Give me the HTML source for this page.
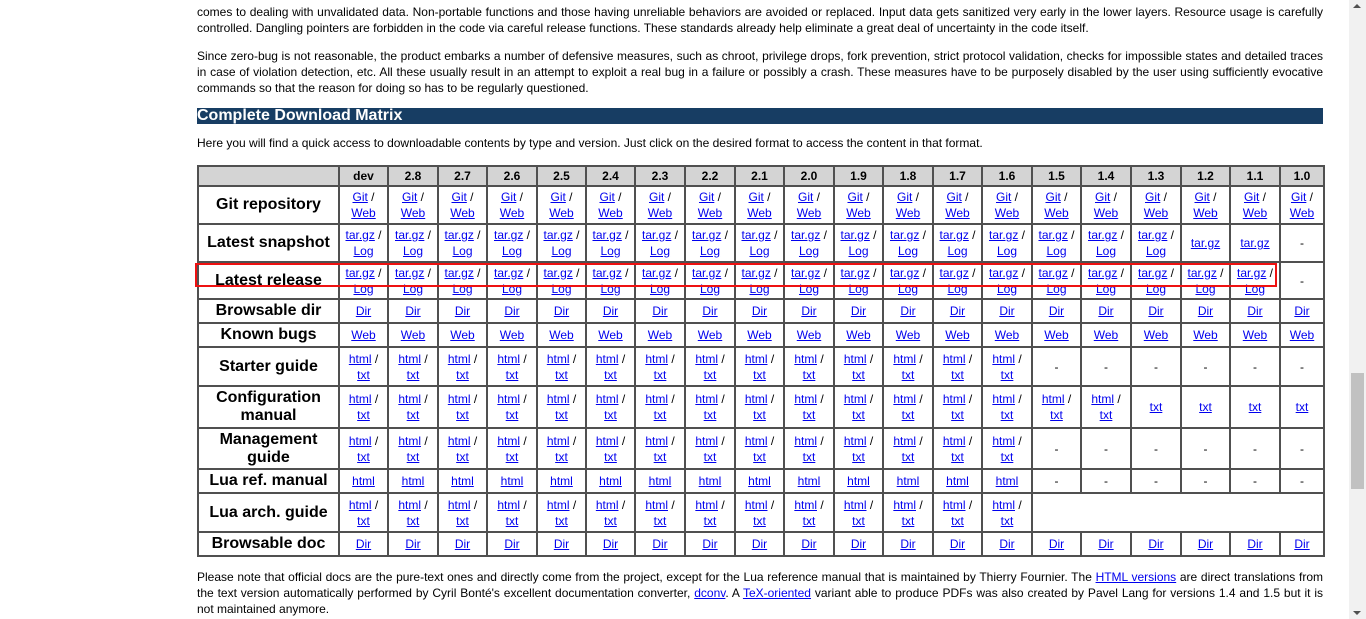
<!DOCTYPE html>
<html><head><meta charset="utf-8"><style>
body{margin:0;width:1366px;height:619px;overflow:hidden;background:#fff;font-family:"Liberation Sans",Arial,sans-serif;font-size:12px;color:#000;position:relative}
.ln{position:absolute;left:197px;width:1126px;height:16px;line-height:16px;white-space:nowrap;text-align:justify;text-align-last:justify}
.ln.last{text-align-last:left}
a{color:#0000ee;text-decoration:underline}
a.v{color:#551a8b}
#hdr{position:absolute;left:197px;top:108px;width:1126px;height:16px;background:#173d63;color:#fff;font-weight:bold;font-size:16px;line-height:16px}
table{position:absolute;left:197px;top:165px;border-collapse:collapse;table-layout:fixed;width:1126px}
td,th{border:2px solid #505050;text-align:center;padding:0;font-size:12px;line-height:16px}
th{background:#d4d4d4;height:18px;font-weight:bold}
td.l{font-weight:bold;font-size:16px;line-height:18px}
#red{position:absolute;left:195px;top:263px;width:1078px;height:20px;border:2px solid #ee1111}
#sb{position:absolute;left:1349px;top:0;width:17px;height:619px;background:#f1f1f1}
#thumb{position:absolute;left:1351px;top:373px;width:13px;height:116px;background:#c1c1c1}
</style></head><body>
<div class="ln" style="top:4px">comes to dealing with unvalidated data. Non-portable functions and those having unreliable behaviors are avoided or replaced. Input data gets sanitized very early in the lower layers. Resource usage is carefully</div>
<div class="ln last" style="top:20px">controlled. Dangling pointers are forbidden in the code via careful release functions. These standards already help eliminate a great deal of uncertainty in the code itself.</div>
<div class="ln" style="top:48px">Since zero-bug is not reasonable, the product embarks a number of defensive measures, such as chroot, privilege drops, fork prevention, strict protocol validation, checks for impossible states and detailed traces</div>
<div class="ln" style="top:64px">in case of violation detection, etc. All these usually result in an attempt to exploit a real bug in a failure or possibly a crash. These measures have to be purposely disabled by the user using sufficiently evocative</div>
<div class="ln last" style="top:80px">commands so that the reason for doing so has to be regularly questioned.</div>
<div id="hdr">Complete Download Matrix</div>
<div class="ln last" style="top:135px">Here you will find a quick access to downloadable contents by type and version. Just click on the desired format to access the content in that format.</div>
<table id="t"></table>
<div id="red"></div>
<div class="ln" style="top:569px">Please note that official docs are the pure-text ones and directly come from the project, except for the Lua reference manual that is maintained by Thierry Fournier. The <a href="#">HTML versions</a> are direct translations from</div>
<div class="ln" style="top:585px">the text version automatically performed by Cyril Bonté's excellent documentation converter, <a href="#">dconv</a>. A <a href="#">TeX-oriented</a> variant able to produce PDFs was also created by Pavel Lang for versions 1.4 and 1.5 but it is</div>
<div class="ln last" style="top:601px">not maintained anymore.</div>
<div id="sb"><div style="position:absolute;top:4px;left:4px;border:4px solid transparent;border-bottom:4px solid #505050;border-top:0"></div><div style="position:absolute;bottom:4px;left:4px;border:4px solid transparent;border-top:4px solid #505050;border-bottom:0"></div></div>
<div id="thumb"></div>
<script>
const versions=['dev','2.8','2.7','2.6','2.5','2.4','2.3','2.2','2.1','2.0','1.9','1.8','1.7','1.6','1.5','1.4','1.3','1.2','1.1','1.0'];
const colW=[141,49,50,49,50,49,49,50,50,49,50,49,50,49,50,49,50,50,49,50,44];
const rowH=[38,38,37,24,24,39,42,41,24,39,24];
const rows=[
['Git repository',v=>'2/Git/Web'],
['Latest snapshot',(v,i)=>i<17?'2/tar.gz/Log':i<19?'1/tar.gz':'-'],
['Latest release',(v,i)=>i<19?'2/tar.gz/Log':'-'],
['Browsable dir',v=>'1/Dir'],
['Known bugs',v=>'1/Web'],
['Starter guide',(v,i)=>i<14?'2/html/txt':'-'],
['Configuration manual',(v,i)=>i<16?'2/html/txt':'1/txt'],
['Management guide',(v,i)=>i<14?'2/html/txt':'-'],
['Lua ref. manual',(v,i)=>i<14?'1/html':'-'],
['Lua arch. guide',(v,i)=>i<14?'2/html/txt':null],
['Browsable doc',v=>'1/Dir']];
const t=document.getElementById('t');
const cg=document.createElement('colgroup');
colW.forEach(w=>{const c=document.createElement('col');c.style.width=w+'px';cg.appendChild(c);});
t.appendChild(cg);
let tr=document.createElement('tr');


let th=document.createElement('th');tr.appendChild(th);
versions.forEach(v=>{const h=document.createElement('th');h.textContent=v;


tr.appendChild(h);});
t.appendChild(tr);
rows.forEach((r,ri)=>{
const row=document.createElement('tr');


row.style.height=rowH[ri]+'px';
const l=document.createElement('td');l.className='l';l.textContent=r[0];


row.appendChild(l);
let done=false;
versions.forEach((v,i)=>{
if(done)return;
const s=r[1](v,i);
const td=document.createElement('td');


if(s===null){td.colSpan=versions.length-i;td.style.borderBottomColor='#505050';done=true;}
else if(s==='-'){td.textContent='-';}
else{const p=s.split('/');
if(p[0]==='2'){td.innerHTML='<a href="#">'+p[1]+'</a> /<br><a href="#">'+p[2]+'</a>';}
else td.innerHTML='<a href="#">'+p[1]+'</a>';
td.querySelectorAll('a').forEach(a=>{

});}
row.appendChild(td);});
t.appendChild(row);});
</script>
</body></html>
